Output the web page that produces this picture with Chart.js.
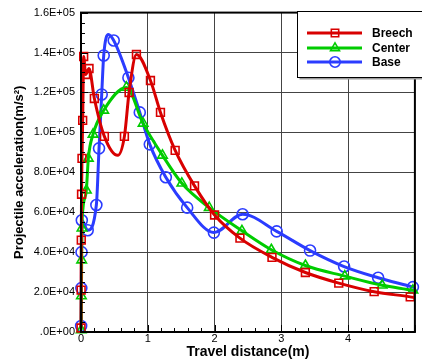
<!DOCTYPE html>
<html>
<head>
<meta charset="utf-8">
<title>Projectile acceleration</title>
<script src="https://cdn.jsdelivr.net/npm/chart.js@4.4.0/dist/chart.umd.min.js"></script>
<style>
  html, body { margin: 0; padding: 0; background: #fff; }
  #wrap { width: 422px; height: 364px; }
</style>
</head>
<body>
<div id="wrap"><canvas id="myChart" width="422" height="364"></canvas></div>
<script>
// data (x: travel distance m, y: acceleration m/s2)
var breechX = [0, 0.002, 0.004, 0.008, 0.015, 0.025, 0.04, 0.07, 0.12, 0.2, 0.35, 0.55, 0.65, 0.72, 0.83, 1.04, 1.19, 1.41, 1.70, 2.00, 2.38, 2.86, 3.36, 3.86, 4.39, 4.93, 5.0];
var breechY = [2000, 21000, 46000, 69000, 87000, 106000, 138000, 129000, 132000, 117000, 98000, 88500, 98000, 120000, 139000, 126000, 110000, 91000, 73200, 58600, 47000, 37400, 29800, 24500, 20200, 17600, 17200];
var breechNoMark = [0.55, 5.0];

var centerX = [0.003, 0.006, 0.01, 0.015, 0.03, 0.08, 0.11, 0.18, 0.34, 0.68, 0.93, 1.22, 1.51, 1.92, 2.41, 2.85, 3.36, 3.95, 4.51, 4.97, 5.0];
var centerY = [1000, 18000, 36000, 52000, 62000, 71000, 87000, 99000, 111000, 122500, 104500, 88500, 74500, 62300, 50700, 41200, 33300, 28000, 23400, 20900, 20700];
var centerNoMark = [0.03, 5.0];

var baseX = [0.002, 0.005, 0.008, 0.012, 0.1, 0.23, 0.27, 0.31, 0.34, 0.41, 0.49, 0.71, 0.88, 1.03, 1.27, 1.59, 1.99, 2.42, 2.93, 3.43, 3.94, 4.45, 4.97, 5.0];
var baseY = [3000, 22000, 40000, 56000, 51000, 63600, 92000, 119000, 138500, 149000, 146000, 127400, 110000, 94000, 77500, 62300, 49800, 59000, 50400, 40800, 32800, 27200, 22500, 22200];
var baseNoMark = [0.41, 5.0];

var seriesNames = ["Breech", "Center", "Base"];
var xTicks = [0, 1, 2, 3, 4];
var yTicks = [0, 20000, 40000, 60000, 80000, 100000, 120000, 140000, 160000];

function toPoints(xs, ys) {
  var pts = [];
  for (var i = 0; i < xs.length; i++) pts.push({ x: xs[i], y: ys[i] });
  return pts;
}
function radii(xs, noMark, r) {
  return xs.map(function (v) { return noMark.indexOf(v) >= 0 ? 0 : r; });
}

// Tecplot-like label: .0E+00, 2.0E+04 ...
function sciLabel(v) {
  if (v === 0) return ".0E+00";
  var s = v.toExponential(1).toUpperCase();
  return s.replace(/E\+(\d)$/, "E+0$1");
}

var colors = ["#d80000", "#00cc00", "#2b3cff"];
var styles = ["rect", "triangle", "circle"];

// minor ticks, frame and legend box
var decorPlugin = {
  id: "decor",
  afterDatasetsDraw: function (chart) {
    var c = chart.ctx, a = chart.chartArea;
    var xs = chart.scales.x, ys = chart.scales.y;
    c.save();
    c.strokeStyle = "#000";
    c.lineWidth = 1;
    c.beginPath();
    for (var v = 0; v <= 5.0001; v += 0.2) {
      var px = Math.round(xs.getPixelForValue(v)) + 0.5;
      var major = Math.abs(v - Math.round(v)) < 0.001;
      c.moveTo(px, a.bottom);
      c.lineTo(px, a.bottom - (major ? 7 : 4));
    }
    for (var w = 0; w <= 160000; w += 5000) {
      var py = Math.round(ys.getPixelForValue(w)) + 0.5;
      var maj = w % 20000 === 0;
      c.moveTo(a.left, py);
      c.lineTo(a.left + (maj ? 7 : 4), py);
    }
    c.stroke();
    c.lineWidth = 2;
    c.strokeRect(a.left, a.top, a.right - a.left, a.bottom - a.top);
    c.restore();
  },
  afterDraw: function (chart) {
    var c = chart.ctx;
    var bx = 297.5, by = 11.5, bw = 130, bh = 66;
    c.save();
    c.fillStyle = "#9a9a9a";
    c.fillRect(bx + 2, by + 2, bw, bh);
    c.fillStyle = "#fff";
    c.fillRect(bx, by, bw, bh);
    c.strokeStyle = "#000";
    c.lineWidth = 1;
    c.strokeRect(bx, by, bw, bh);
    var rows = [33, 48, 62];
    for (var i = 0; i < 3; i++) {
      var y = rows[i];
      c.strokeStyle = colors[i];
      c.lineWidth = 3;
      c.beginPath();
      c.moveTo(307, y);
      c.lineTo(362, y);
      c.stroke();
      // hollow marker on the sample line
      c.fillStyle = "rgba(0,0,0,0)";
      c.strokeStyle = colors[i];
      c.lineWidth = 1.6;
      Chart.helpers.drawPoint(c, { pointStyle: styles[i], radius: 5.2, rotation: 0, borderWidth: 1.6 }, 335, y);
      c.fillStyle = "#000";
      c.font = "bold 12px 'Liberation Sans', Arial, sans-serif";
      c.textBaseline = "middle";
      c.textAlign = "left";
      c.fillText(seriesNames[i], 372, y + 0.5);
    }
    c.restore();
  }
};

function makeSet(i, xs, ys, noMark, r) {
  return {
    label: seriesNames[i],
    data: toPoints(xs, ys),
    borderColor: colors[i],
    backgroundColor: "rgba(0,0,0,0)",
    borderWidth: 3,
    pointStyle: styles[i],
    pointRadius: radii(xs, noMark, r),
    pointBorderWidth: 1.6,
    pointBorderColor: colors[i],
    pointBackgroundColor: "rgba(0,0,0,0)",
    cubicInterpolationMode: "monotone",
    clip: 8
  };
}

var ctx = document.getElementById("myChart").getContext("2d");
var chart = new Chart(ctx, {
  type: "line",
  data: {
    datasets: [
      makeSet(0, breechX, breechY, breechNoMark, 5.5),
      makeSet(1, centerX, centerY, centerNoMark, 5.5),
      makeSet(2, baseX, baseY, baseNoMark, 5.5)
    ]
  },
  plugins: [decorPlugin],
  options: {
    responsive: false,
    animation: false,
    events: [],
    layout: { padding: { top: 10, right: 0, left: 0, bottom: 0 } },
    plugins: { legend: { display: false }, tooltip: { enabled: false } },
    scales: {
      x: {
        type: "linear",
        min: 0,
        max: 5,
        afterFit: function (s) { s.height = 32; },
        afterBuildTicks: function (s) { s.ticks = xTicks.concat([5]).map(function (v) { return { value: v }; }); },
        ticks: {
          padding: 0,
          color: "#000",
          font: { family: "'Liberation Sans', Arial, sans-serif", size: 11 },
          callback: function (v) { return v === 5 ? "" : String(v); }
        },
        grid: { color: "#444", lineWidth: 1, drawTicks: false },
        border: { display: false },
        title: {
          display: true,
          text: "Travel distance(m)",
          color: "#000",
          font: { family: "'Liberation Sans', Arial, sans-serif", size: 14, weight: "bold" },
          padding: { top: 0, bottom: 3 }
        }
      },
      y: {
        type: "linear",
        min: 0,
        max: 160000,
        afterFit: function (s) { s.width = 81; },
        afterBuildTicks: function (s) { s.ticks = yTicks.map(function (v) { return { value: v }; }); },
        ticks: {
          padding: 6,
          color: "#000",
          font: { family: "'Liberation Sans', Arial, sans-serif", size: 11 },
          callback: function (v) { return sciLabel(v); }
        },
        grid: { color: "#444", lineWidth: 1, drawTicks: false },
        border: { display: false },
        title: {
          display: true,
          text: "Projectile acceleration(m/s\u00B2)",
          color: "#000",
          font: { family: "'Liberation Sans', Arial, sans-serif", size: 13, weight: "bold" },
          padding: { top: 12, bottom: 0 }
        }
      }
    }
  }
});
</script>
</body>
</html>
